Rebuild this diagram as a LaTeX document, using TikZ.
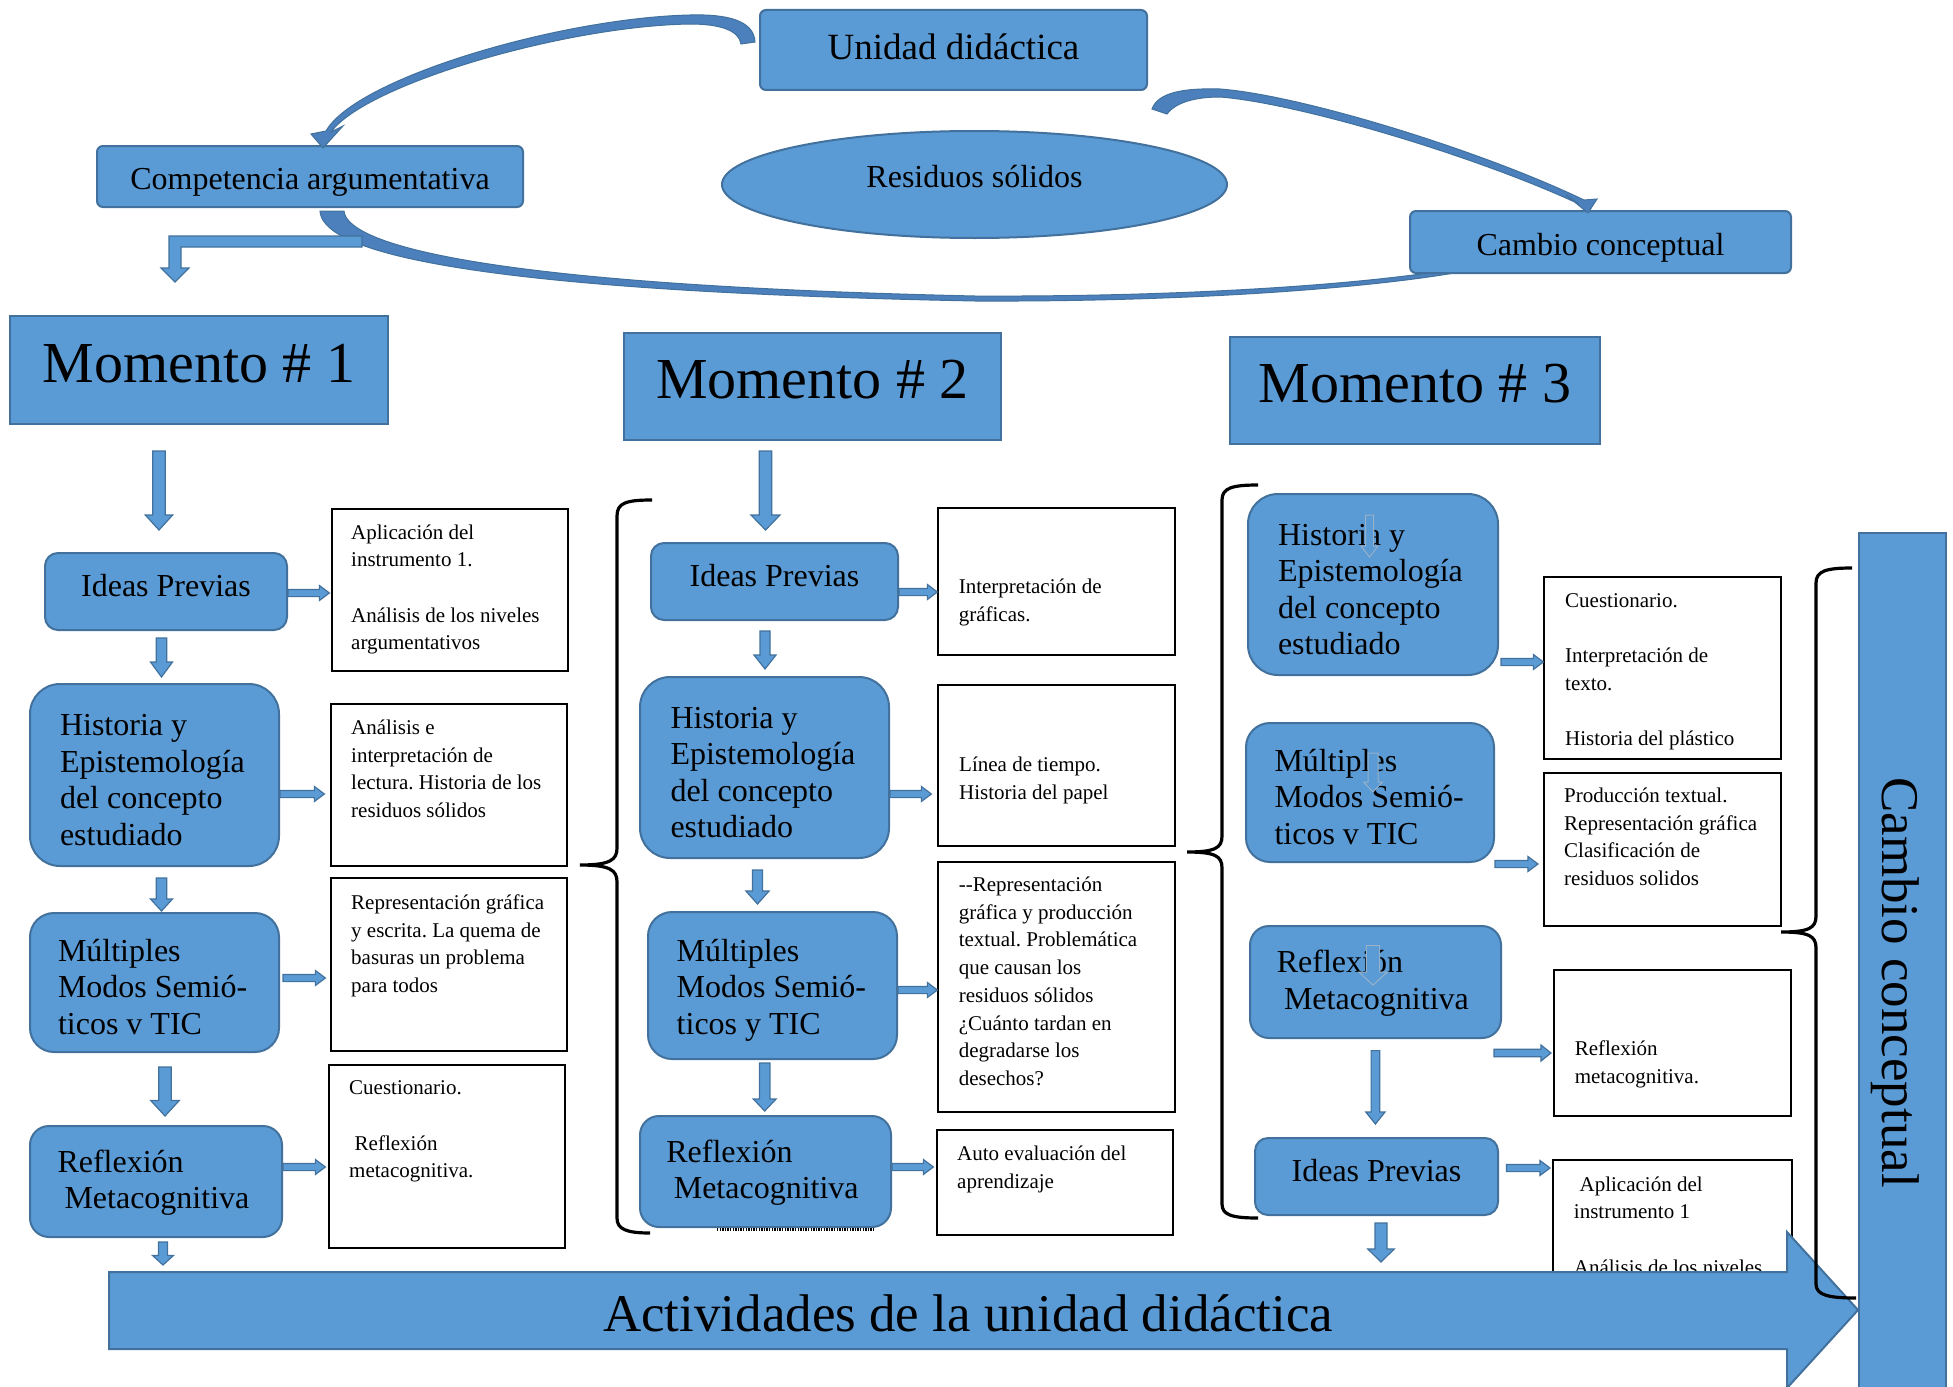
\documentclass[tikz,border=0pt]{standalone}
\usepackage{fontspec}
\setmainfont{Liberation Serif}
\usetikzlibrary{calc,shapes.geometric}
\definecolor{myblue}{RGB}{91,155,213}
\definecolor{myedge}{RGB}{65,113,156}
\definecolor{mydark}{RGB}{76,128,188}
\def\baS{5pt}\def\baH{11pt}\def\baL{13pt}\def\bgA{0pt}\def\bgB{0pt}
\newcommand{\topstrut}[1]{\rule{0pt}{#1}}
\tikzset{
  aS/.code={\def\baS{#1pt}}, aH/.code={\def\baH{#1pt}}, aL/.code={\def\baL{#1pt}},
  gA/.code={\def\bgA{#1pt}}, gB/.code={\def\bgB{#1pt}},
  barrow/.style={fill=myblue, draw=myedge, line width=1.2pt},
  varr/.style={barrow, to path={let \p1=(\tikztostart), \p2=(\tikztotarget) in
    (\x1-\baS,\y1-\bgA) -- (\x1+\baS,\y1-\bgA) -- (\x1+\baS,\y2+\bgB+\baL) -- (\x1+\baH,\y2+\bgB+\baL)
    -- (\x1,\y2+\bgB) -- (\x1-\baH,\y2+\bgB+\baL) -- (\x1-\baS,\y2+\bgB+\baL) -- cycle}},
  harr/.style={barrow, to path={let \p1=(\tikztostart), \p2=(\tikztotarget) in
    (\x1+\bgA,\y1+\baS) -- (\x2-\bgB-\baL,\y1+\baS) -- (\x2-\bgB-\baL,\y1+\baH) -- (\x2-\bgB,\y1)
    -- (\x2-\bgB-\baL,\y1-\baH) -- (\x2-\bgB-\baL,\y1-\baS) -- (\x1+\bgA,\y1-\baS) -- cycle}},
  bbox/.style={draw=myedge, fill=myblue, line width=2pt, inner sep=0pt, font=\fontsize{32}{36.5}\selectfont},
  mlbox/.style={bbox, align=flush left},
  mbox/.style={draw=myedge, fill=myblue, line width=2pt, inner sep=0pt, font=\fontsize{58}{60}\selectfont, text height=40pt, text depth=16pt},
  tbox/.style={draw=black, line width=1.3pt, fill=white, inner sep=0pt},
  ttext/.style={font=\fontsize{21}{27.7}\selectfont, align=left, inner sep=0pt, anchor=north west},
  brace/.style={draw=black, line width=3.2pt},
  curv/.style={fill=mydark, draw=myedge, line width=1pt},
  hollow/.style={fill=myblue, draw=myedge!55!white, line width=1pt}
}
\begin{document}
\frenchspacing
\begin{tikzpicture}[x=1pt,y=-1pt]
\useasboundingbox (0,0) rectangle (1953,1386);
\fill[white] (0,0) rectangle (1953,1386);

% ---- big lower curve (Competencia -> Cambio), under the boxes
\filldraw[curv] (320,211) .. controls (322,245) and (420,290) .. (975,301)
  .. controls (1190,302) and (1370,288) .. (1460,272) -- (1460,268)
  .. controls (1370,284) and (1190,297) .. (975,296)
  .. controls (440,284) and (346,238) .. (344,211) -- cycle;

% ---- top nodes
\node[bbox, rounded corners=6pt, minimum width=387pt, minimum height=80pt,
  font=\fontsize{37}{40}\selectfont, text height=25pt, text depth=5pt] (ud) at (953.5,50) {Unidad didáctica};
\node[bbox, rounded corners=6pt, minimum width=426pt, minimum height=61pt,
  text height=25pt, text depth=0pt] (ca) at (310,176.5) {Competencia argumentativa};
\node[bbox, ellipse, minimum width=505pt, minimum height=107pt,
  text height=22pt, text depth=17pt] (rs) at (974.5,184.5) {Residuos sólidos};
\node[bbox, rounded corners=6pt, minimum width=381pt, minimum height=62pt,
  text height=26pt, text depth=0pt] (cc) at (1600.5,242) {Cambio conceptual};

% ---- curved arrows
\filldraw[curv] (755,42) .. controls (754,20) and (726,14) .. (690,15)
  .. controls (560,18) and (356,78) .. (326,131) -- (311,134) -- (323,148) -- (343,126) -- (331,132)
  .. controls (366,84) and (565,26) .. (690,24)
  .. controls (719,24) and (739,30) .. (741,44) -- cycle;
\filldraw[curv] (1152,109) .. controls (1158,92) and (1185,88) .. (1220,89)
  .. controls (1300,95) and (1480,150) .. (1584,200) -- (1597,199) -- (1588,213) -- (1566,195) -- (1579,204)
  .. controls (1476,156) and (1298,103) .. (1220,97)
  .. controls (1196,97) and (1176,102) .. (1167,114) -- cycle;

% ---- bent arrow Competencia -> Momento 1
\filldraw[barrow] (362,236) -- (169,236) -- (169,268) -- (161,268) -- (175,282) -- (189,268)
  -- (181,268) -- (181,247) -- (362,247) -- cycle;

% ---- Momento headers
\node[mbox, minimum width=378pt, minimum height=108pt] (m1) at (199,370) {Momento \# 1};
\node[mbox, minimum width=377pt, minimum height=107pt] (m2) at (812.5,386.5) {Momento \# 2};
\node[mbox, minimum width=370pt, minimum height=107pt] (m3) at (1415,390.5) {Momento \# 3};

% ---- column 1
\node[bbox, rounded corners=13pt, minimum width=242pt, minimum height=77pt, text height=22pt, text depth=12pt] (ip1) at (166,591.5) {Ideas Previas};
\node[mlbox, rounded corners=30pt, minimum width=249pt, minimum height=182pt, text width=189pt] (hi1) at (154.5,775) {\topstrut{31pt}\mbox{Historia y}\\\mbox{Epistemología}\\\mbox{del concepto}\\\mbox{estudiado}};
\node[mlbox, rounded corners=24pt, minimum width=249pt, minimum height=139pt, text width=193pt] (mu1) at (154.5,982.5) {\topstrut{31pt}\mbox{Múltiples}\\\mbox{Modos Semió-}\\\mbox{ticos v TIC}};
\node[mlbox, rounded corners=19pt, minimum width=252pt, minimum height=111pt, text width=197pt] (re1) at (156,1181.5) {\topstrut{25pt}\mbox{Reflexión}\\\hspace*{7pt}\mbox{Metacognitiva}};

\node[tbox, minimum width=236pt, minimum height=162pt] (t1a) at (450,590) {};
\node[ttext] (t1a-x) at (351,524.3) {Aplicación del\\instrumento 1.\\[27.7pt]Análisis de los niveles\\argumentativos};
\node[tbox, minimum width=236pt, minimum height=162pt] (t1b) at (449,785) {};
\node[ttext] (t1b-x) at (351,719.7) {Análisis e\\interpretación de\\lectura. Historia de los\\residuos sólidos};
\node[tbox, minimum width=236pt, minimum height=173pt] (t1c) at (449,964.5) {};
\node[ttext] (t1c-x) at (351,894.4) {Representación gráfica\\y escrita. La quema de\\basuras un problema\\para todos};
\node[tbox, minimum width=236pt, minimum height=183pt] (t1d) at (447,1156.5) {};
\node[ttext] (t1d-x) at (349,1080.7) {Cuestionario.\\[27.7pt]\hspace*{5.5pt}Reflexión\\metacognitiva.};

\draw[varr, aS=6.2, aH=13.7, aL=15, gA=26, gB=22] (m1.south -| 159,0) to (ip1.north -| 159,0);
\draw[varr, aS=5.2, aH=11, aL=15, gA=7, gB=6] (ip1.south -| 161.5,0) to (hi1.north -| 161.5,0);
\draw[varr, aS=5.2, aH=11, aL=12, gA=11, gB=1] (hi1.south -| 161.5,0) to (mu1.north -| 161.5,0);
\draw[varr, aS=6.2, aH=14.3, aL=15.5, gA=14, gB=9] (mu1.south -| 165,0) to (re1.north -| 165,0);
\draw[harr, aS=3.6, aH=7.5, aL=10, gA=0, gB=2] (ip1.east |- 0,593) to (t1a.west |- 0,593);
\draw[harr, aS=3.6, aH=7.5, aL=10, gA=0, gB=6] (hi1.east |- 0,794) to (t1b.west |- 0,794);
\draw[harr, aS=3.6, aH=7.5, aL=10, gA=3, gB=5] (mu1.east |- 0,978) to (t1c.west |- 0,978);
\draw[harr, aS=3.6, aH=7.5, aL=10, gA=0, gB=3] (re1.east |- 0,1167) to (t1d.west |- 0,1167);

% ---- column 2
\node[bbox, rounded corners=13pt, minimum width=247pt, minimum height=77pt, text height=22pt, text depth=12pt] (ip2) at (774.5,581.5) {Ideas Previas};
\node[mlbox, rounded corners=30pt, minimum width=249pt, minimum height=181pt, text width=188pt] (hi2) at (764.5,767.5) {\topstrut{31pt}\mbox{Historia y}\\\mbox{Epistemología}\\\mbox{del concepto}\\\mbox{estudiado}};
\node[mlbox, rounded corners=24pt, minimum width=249pt, minimum height=147pt, text width=191.6pt] (mu2) at (772.5,985.5) {\topstrut{31pt}\mbox{Múltiples}\\\mbox{Modos Semió-}\\\mbox{ticos y TIC}};
\node[mlbox, rounded corners=19pt, minimum width=251pt, minimum height=111pt, text width=198.4pt] (re2) at (765.5,1171.5) {\topstrut{25pt}\mbox{Reflexión}\\\hspace*{7.5pt}\mbox{Metacognitiva}};
\draw[line width=3pt, dash pattern=on 1.3pt off 1.3pt] (717,1229) -- (875,1229);

\node[tbox, minimum width=237pt, minimum height=147pt] (t2a) at (1056.5,581.5) {};
\node[ttext] (t2a-x) at (958.6,578.7) {Interpretación de\\gráficas.};
\node[tbox, minimum width=237pt, minimum height=161pt] (t2b) at (1056.5,765.5) {};
\node[ttext] (t2b-x) at (959,756.7) {Línea de tiempo.\\Historia del papel};
\node[tbox, minimum width=237pt, minimum height=250pt] (t2c) at (1056.5,987) {};
\node[ttext] (t2c-x) at (958.6,876.7) {-{}-Representación\\gráfica y producción\\textual. Problemática\\que causan los\\residuos sólidos\\¿Cuánto tardan en\\degradarse los\\desechos?};
\node[tbox, minimum width=236pt, minimum height=105pt] (t2d) at (1055,1182.5) {};
\node[ttext] (t2d-x) at (957,1145.7) {Auto evaluación del\\aprendizaje};

\draw[varr, aS=6.2, aH=14.5, aL=15, gA=10, gB=12] (m2.south -| 765.5,0) to (ip2.north -| 765.5,0);
\draw[varr, aS=5, aH=11, aL=14, gA=10, gB=7] (ip2.south -| 765,0) to (hi2.north -| 765,0);
\draw[varr, aS=5, aH=11.6, aL=13, gA=11, gB=7] (hi2.south -| 757.5,0) to (mu2.north -| 757.5,0);
\draw[varr, aS=5.2, aH=11.4, aL=12, gA=3, gB=4] (mu2.south -| 764.7,0) to (re2.north -| 764.7,0);
\draw[harr, aS=3.6, aH=7.5, aL=10, gA=0, gB=0] (ip2.east |- 0,592) to (t2a.west |- 0,592);
\draw[harr, aS=3.6, aH=7.5, aL=10, gA=0, gB=6] (hi2.east |- 0,794) to (t2b.west |- 0,794);
\draw[harr, aS=3.6, aH=7.5, aL=10, gA=0, gB=0] (mu2.east |- 0,990) to (t2c.west |- 0,990);
\draw[harr, aS=3.6, aH=7.5, aL=10, gA=0, gB=3] (re2.east |- 0,1167) to (t2d.west |- 0,1167);

% ---- column 3
\node[mlbox, rounded corners=30pt, minimum width=250pt, minimum height=181pt, text width=190pt] (hi3) at (1373,584.5) {\topstrut{31pt}\mbox{Historia y}\\\mbox{Epistemología}\\\mbox{del concepto}\\\mbox{estudiado}};
\node[mlbox, rounded corners=24pt, minimum width=248pt, minimum height=139pt, text width=191pt] (mu3) at (1370,792.5) {\topstrut{31pt}\mbox{Múltiples}\\\mbox{Modos Semió-}\\\mbox{ticos v TIC}};
\node[mlbox, rounded corners=19pt, minimum width=251pt, minimum height=112pt, text width=197.4pt] (re3) at (1375.5,982) {\topstrut{25pt}\mbox{Reflexión}\\\hspace*{7.2pt}\mbox{Metacognitiva}};
\node[bbox, rounded corners=13pt, minimum width=243pt, minimum height=77pt, text height=22pt, text depth=12pt] (ip3) at (1376.5,1176.5) {Ideas Previas};

\draw[varr, hollow, aS=4, aH=8.5, aL=11, gA=22, gB=119] (hi3.north -| 1369.5,0) to (hi3.south -| 1369.5,0);
\draw[varr, hollow, aS=5, aH=9.5, aL=10, gA=31, gB=71] (mu3.north -| 1373,0) to (mu3.south -| 1373,0);
\draw[varr, hollow, aS=6.7, aH=14.3, aL=13, gA=20.6, gB=54] (re3.north -| 1373,0) to (re3.south -| 1373,0);

\node[tbox, minimum width=237pt, minimum height=182pt] (t3a) at (1662.5,668) {};
\node[ttext] (t3a-x) at (1565,593.2) {Cuestionario.\\[27.7pt]Interpretación de\\texto.\\[27.7pt]Historia del plástico};
\node[tbox, minimum width=237pt, minimum height=153pt] (t3b) at (1662.5,849.5) {};
\node[ttext] (t3b-x) at (1564,787.7) {Producción textual.\\Representación gráfica\\Clasificación de\\residuos solidos};
\node[tbox, minimum width=237pt, minimum height=146pt] (t3c) at (1672.5,1043) {};
\node[ttext] (t3c-x) at (1574.6,1040.3) {Reflexión\\metacognitiva.};
\node[tbox, minimum width=239pt, minimum height=140pt] (t3d) at (1672.5,1230) {};
\node[ttext] (t3d-x) at (1573.7,1176.2) {\hspace*{5.7pt}Aplicación del\\instrumento 1\\[27.7pt]Análisis de los niveles};

\draw[varr, aS=4.3, aH=9.6, aL=12, gA=11.6, gB=13] (re3.south -| 1375.4,0) to (ip3.north -| 1375.4,0);
\draw[harr, aS=3.6, aH=7.5, aL=10, gA=2, gB=0] (hi3.east |- 0,662) to (t3a.west |- 0,662);
\draw[harr, aS=3.6, aH=7.5, aL=10, gA=0, gB=5.4] (mu3.east |- 0,864) to (t3b.west |- 0,864);
\draw[harr, aS=3.7, aH=8, aL=10, gA=-8, gB=2.4] (re3.east |- 0,1053) to (t3c.west |- 0,1053);
\draw[harr, aS=3.6, aH=7.5, aL=10, gA=7.5, gB=2.4] (ip3.east |- 0,1168) to (t3d.west |- 0,1168);

% ---- big bottom arrow
\coordinate (acttop) at (109,1272);
\filldraw[fill=myblue, draw=myedge, line width=2pt] (109,1272) -- (1787,1272) -- (1787,1232) -- (1858,1310)
  -- (1787,1388) -- (1787,1349) -- (109,1349) -- cycle;
\node[font=\fontsize{53}{55}\selectfont, anchor=base, inner sep=0pt] (act) at (968,1331.5) {Actividades de la unidad didáctica};
\draw[varr, aS=4.5, aH=10.4, aL=9.5, gA=4, gB=7] (re1.south -| 163,0) to (acttop -| 163,0);
\draw[varr, aS=6, aH=13.2, aL=13, gA=7, gB=10] (ip3.south -| 1381,0) to (acttop -| 1381,0);

% ---- vertical Cambio conceptual
\node[draw=myedge, fill=myblue, line width=2pt, inner sep=0pt, minimum width=87pt, minimum height=870pt, anchor=north west] (cv) at (1858,532) {};
\node[font=\fontsize{53}{55}\selectfont, rotate=-90, anchor=base, inner sep=0pt] (cvt) at (1882,982.5) {Cambio conceptual};

% ---- braces
\draw[brace] (652,500) .. controls (626,500) and (617,503) .. (617,516) -- (617,848)
  .. controls (617,860) and (610,865) .. (580,865) .. controls (610,865) and (617,870) .. (617,882)
  -- (617,1218) .. controls (617,1229) and (626,1233) .. (650,1233);
\draw[brace] (1258,485) .. controls (1232,485) and (1222,488) .. (1222,500) -- (1222,836)
  .. controls (1222,848) and (1215,852) .. (1187,852) .. controls (1215,852) and (1222,856) .. (1222,868)
  -- (1222,1204) .. controls (1222,1215) and (1232,1218) .. (1258,1218);
\draw[brace] (1852,568) .. controls (1826,568) and (1816,571) .. (1816,583) -- (1816,916)
  .. controls (1816,928) and (1809,932) .. (1781,932) .. controls (1809,932) and (1816,936) .. (1816,948)
  -- (1816,1284) .. controls (1816,1295) and (1828,1298) .. (1856,1298);
\end{tikzpicture}
\end{document}
